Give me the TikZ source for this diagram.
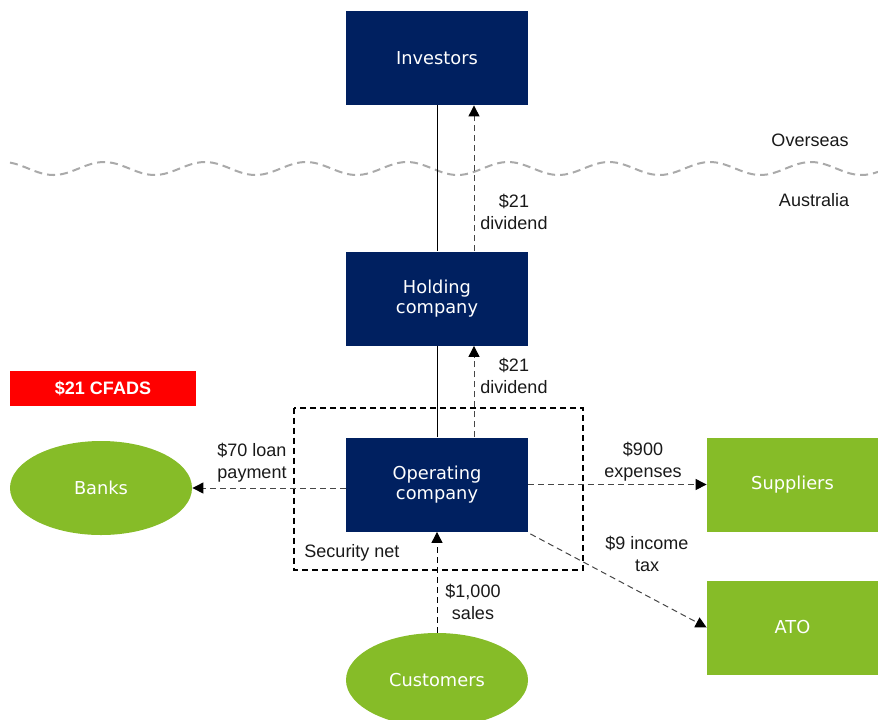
\documentclass[tikz,border=0pt]{standalone}
\usepackage{fontspec}
\setmainfont{Liberation Sans}
\newfontfamily\boxfont{DejaVu Sans}
\usetikzlibrary{shapes.geometric,arrows.meta}

\definecolor{navy}{RGB}{0,32,96}
\definecolor{leaf}{RGB}{134,188,40}
\definecolor{wavegray}{RGB}{170,170,170}
\definecolor{flowgray}{RGB}{70,70,70}

\tikzset{
  entity/.style={rectangle, fill=navy, text=white, minimum width=91pt, minimum height=47pt,
    align=center, font=\boxfont\fontsize{8.9}{10}\selectfont},
  party/.style={rectangle, fill=leaf, text=white, minimum width=85.5pt, minimum height=47pt,
    align=center, font=\boxfont\fontsize{8.9}{10}\selectfont},
  crowd/.style={ellipse, fill=leaf, text=white, minimum width=91pt, minimum height=47pt,
    inner sep=0pt, font=\boxfont\fontsize{8.9}{10}\selectfont},
  flowline/.style={flowgray, line width=0.5pt, dash pattern=on 3pt off 2pt,
    -{Triangle[length=5.5pt,width=5.5pt,black]}},
  amount/.style={align=center, text=black!90, font=\fontsize{9}{11}\selectfont}
}

\begin{document}
\begin{tikzpicture}[x=0.5pt,y=-0.5pt]
        \useasboundingbox (0,0) rectangle (878,719);

        % Border between countries
        \draw[wavegray, line width=1pt, dash pattern=on 4pt off 2.5pt]
          plot[domain=10:878, samples=220] (\x, {168.5-6.5*cos(3.5644*(\x-3))});
        \node[amount] (over) at (810,140) {Overseas};
        \node[amount] (aus) at (814,200) {Australia};

        % Companies
        \node[entity] (inv) at (437,58) {Investors};
        \node[entity] (hold) at (437,298.5) {Holding\\company};
        \node[entity] (op) at (437,484.5) {Operating\\company};

        % Outside parties
        \node[crowd] (banks) at (101,488) {Banks};
        \node[crowd] (cust) at (437,680) {Customers};
        \node[party] (supp) at (792.5,484.5) {Suppliers};
        \node[party] (ato) at (792.5,627.5) {ATO};

        \node[fill=red, text=white, minimum width=93pt, minimum height=17.5pt,
          font=\bfseries\fontsize{9}{11}\selectfont] (cfads) at (103,388.5) {\$21 CFADS};

        % Security net
        \draw[line width=1pt, dash pattern=on 3pt off 2pt] (294,407.5) rectangle (583,569.5);
        \node[amount] (net) at (352,553) {Security net};

        % Ownership
        \draw[line width=0.5pt] (inv.south) -- (hold.north);
        \draw[line width=0.5pt] (hold.south) -- (op.north);

        % Cash flows
        \draw[flowline] ([xshift=18.5pt]hold.north) -- ([xshift=18.5pt]inv.south);
        \draw[flowline] ([xshift=18.5pt]op.north) -- ([xshift=18.5pt]hold.south);
        \draw[flowline] (op.west |- banks.east) -- (banks.east);
        \draw[flowline] (op.east) -- (supp.west);
        \draw[flowline] ([xshift=1pt,yshift=-1pt]op.south east) -- (ato.west);
        \draw[flowline, black] (cust.north) -- (op.south);

        \node[amount] (div1) at (514,212) {\$21\\dividend};
        \node[amount] (div2) at (514,375.5) {\$21\\dividend};
        \node[amount] (loan) at (252,463) {\$70 loan\\payment};
        \node[amount] (exp) at (643,462) {\$900\\expenses};
        \node[amount] (tax) at (647,554) {\$9 income\\tax};
        \node[amount] (sales) at (473,602) {\$1,000\\sales};
\end{tikzpicture}
\end{document}
